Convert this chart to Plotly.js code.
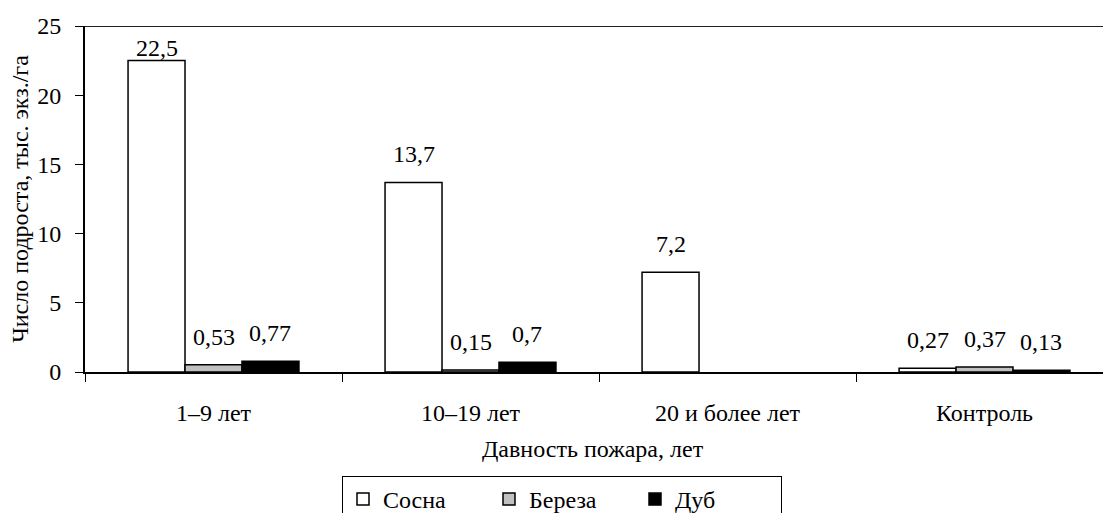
<!DOCTYPE html>
<html>
<head>
<meta charset="utf-8">
<script src="https://cdn.plot.ly/plotly-3.0.1.min.js"></script>
</head>
<body style="margin:0">
<div id="chart"></div>
<script>
const categories = ['1–9 лет', '10–19 лет', '20 и более лет', 'Контроль'];
const seriesNames = ['Сосна', 'Береза', 'Дуб'];
const sosna = [22.5, 13.7, 7.2, 0.27];
const bereza = [0.53, 0.15, null, 0.37];
const dub = [0.77, 0.7, null, 0.13];
const yTicks = [0, 5, 10, 15, 20, 25];
const xTitle = 'Давность пожара, лет';
const yTitle = 'Число подроста, тыс. экз./га';

const FONT = 'Liberation Serif';
const FS = 24;
const W = 1103, H = 513;
const M = {l: 85, r: 0, t: 26, b: 141, autoexpand: false};
const xRange = [-0.5, 3.461];
const yRange = [0, 25];
const bargap = 0.335;

const series = [sosna, bereza, dub];
const fills = ['#ffffff', '#c0c0c0', '#000000'];

const traces = series.map((vals, i) => ({
  type: 'bar',
  name: seriesNames[i],
  x: categories,
  y: vals,
  marker: {color: fills[i], line: {color: '#000', width: 1.5}}
}));

const plotW = W - M.l - M.r;
const plotH = H - M.t - M.b;
const pxPerCat = plotW / (xRange[1] - xRange[0]);
const barW = pxPerCat * (1 - bargap) / series.length;
const pxPerUnit = plotH / (yRange[1] - yRange[0]);

const fmt = v => String(v).replace('.', ',');
const annotations = [];
series.forEach((vals, i) => {
  vals.forEach((v, j) => {
    if (v === null) return;
    const barTop = (yRange[1] - v) * pxPerUnit;
    const center = Math.max(barTop - 28, 22);
    annotations.push({
      x: categories[j], y: v, xref: 'x', yref: 'y',
      text: fmt(v), showarrow: false,
      xshift: (i - 1) * barW, yshift: barTop - center,
      yanchor: 'middle', xanchor: 'center',
      font: {family: FONT, size: FS, color: '#000'}
    });
  });
});
annotations.push({
  xref: 'paper', yref: 'paper', x: (593 - M.l) / plotW, y: -(449 - (M.t + plotH)) / plotH,
  text: xTitle, showarrow: false, xanchor: 'center', yanchor: 'middle',
  font: {family: FONT, size: FS, color: '#000'}
});

const layout = {
  width: W, height: H,
  margin: M,
  paper_bgcolor: '#fff', plot_bgcolor: '#fff',
  font: {family: FONT, size: FS, color: '#000'},
  barmode: 'group', bargap: bargap, bargroupgap: 0,
  showlegend: true,
  legend: {
    orientation: 'h', x: (562 - M.l) / plotW, xanchor: 'center',
    y: -(476 - (M.t + plotH)) / plotH, yanchor: 'top',
    bordercolor: '#000', borderwidth: 1, bgcolor: '#fff',
    entrywidth: 101, itemwidth: 30,
    font: {family: FONT, size: FS, color: '#000'}
  },
  xaxis: {
    type: 'category', range: xRange, fixedrange: true, automargin: false,
    showline: true, linecolor: '#000', linewidth: 2,
    ticks: 'outside', tickson: 'boundaries', ticklen: 8, tickwidth: 1, tickcolor: '#000',
    ticklabelstandoff: 18,
    showgrid: false, zeroline: false,
    tickfont: {family: FONT, size: FS, color: '#000'}
  },
  yaxis: {
    range: yRange, fixedrange: true, automargin: false, tickvals: yTicks, ticktext: yTicks.map(String),
    showline: true, linecolor: '#000', linewidth: 2,
    ticks: 'outside', ticklen: 8, tickwidth: 1, tickcolor: '#000',
    ticklabelstandoff: 9,
    showgrid: false, zeroline: false,
    tickfont: {family: FONT, size: FS, color: '#000'},
    title: {text: yTitle, standoff: 2, font: {family: FONT, size: FS, color: '#000'}}
  },
  shapes: [{
    type: 'line', xref: 'paper', yref: 'y', x0: 0, x1: 1, y0: yRange[1], y1: yRange[1],
    line: {color: '#222', width: 2}
  }],
  annotations: annotations
};

Plotly.newPlot('chart', traces, layout, {displayModeBar: false});
</script>
</body>
</html>
